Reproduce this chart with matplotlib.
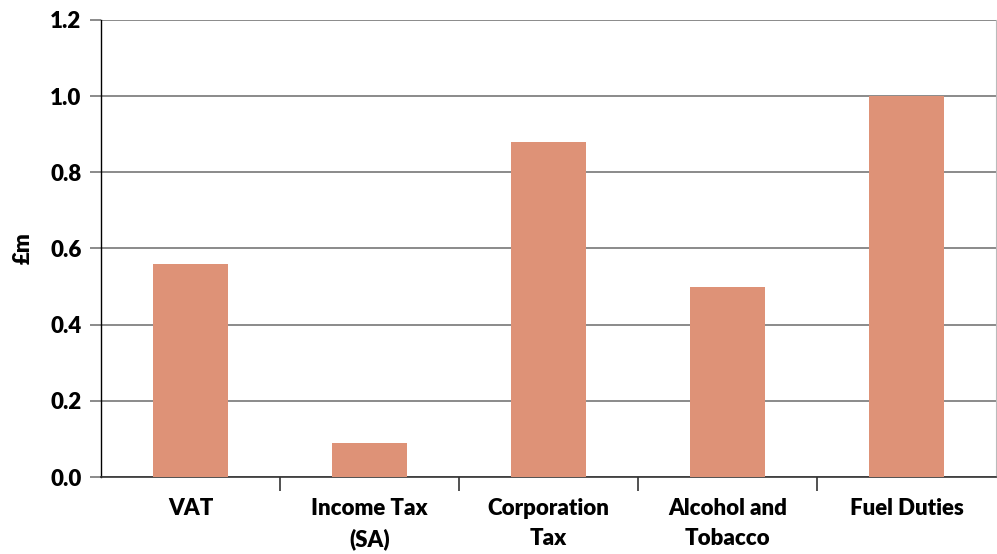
import numpy as np
import matplotlib.pyplot as plt

# Date
categorii = ['VAT', 'Income Tax\n(SA)', 'Corporation\nTax', 'Alcohol and\nTobacco', 'Fuel Duties']
valori = [0.56, 0.09, 0.88, 0.50, 1.00]
yticks = [0.0, 0.2, 0.4, 0.6, 0.8, 1.0, 1.2]

plt.rcParams['font.family'] = ['Lato', 'DejaVu Sans']
plt.rcParams['font.weight'] = 'heavy'

fig = plt.figure(figsize=(9.97, 5.54), dpi=100)
ax = fig.add_axes([101 / 997, 77 / 554, 895 / 997, 457 / 554])

x = np.arange(len(categorii))
ax.bar(x, valori, width=0.42, color='#de9277', zorder=3)

ax.set_xlim(-0.5, len(categorii) - 0.5)
ax.set_ylim(0, 1.2)

# Grila orizontala
ax.set_yticks(yticks)
ax.set_yticklabels([f'{v:.1f}' for v in yticks], fontsize=16, fontweight='heavy')
ax.yaxis.grid(True, color='#777777', linewidth=1.2, zorder=0)
ax.tick_params(axis='y', length=8, width=1.2, color='#777777', pad=6)

# Etichete pe axa x si tick-uri intre categorii
ax.set_xticks(x)
ax.set_xticklabels(categorii, fontsize=16, fontweight='heavy', linespacing=1.55)
ax.tick_params(axis='x', length=0, pad=15)
ax.set_xticks(np.arange(0.5, len(categorii) - 1, 1), minor=True)
ax.tick_params(axis='x', which='minor', length=10, width=1.2, color='#333333')

ax.set_ylabel('£m', fontsize=16, fontweight='heavy', labelpad=12)

ax.spines['top'].set_visible(False)
ax.spines['right'].set_color('#bbbbbb')
ax.spines['left'].set_color('black')
ax.spines['left'].set_linewidth(1.0)
ax.spines['bottom'].set_color('#333333')
ax.spines['bottom'].set_linewidth(1.2)

fig.savefig('out.png', dpi=100)
